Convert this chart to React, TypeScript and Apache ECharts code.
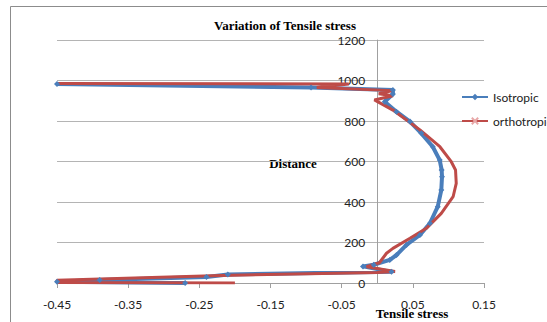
import React, { useEffect, useRef } from "react";
import * as echarts from "echarts";

// Isotropic series (stress, distance), in drawing order
const isoStress = [-0.27, -0.45, -0.39, -0.24, -0.21, 0.02, -0.02, -0.005, 0.0176, 0.027, 0.041, 0.06, 0.074, 0.085, 0.09, 0.091, 0.0905, 0.0878, 0.078, 0.062, 0.046, 0.027, 0.0105, 0.022, 0.022, -0.093, -0.45];
const isoDistance = [0, 6, 15, 30, 42, 55, 82, 90, 114, 138, 188, 237, 295, 377, 459, 525, 558, 607, 673, 739, 797, 846, 895, 933, 953, 965, 983];

// Orthotropic series (stress, distance), in drawing order
const orthoStress = [-0.2, -0.45, -0.45, -0.22, 0.0, 0.025, -0.015, 0.003, 0.013, 0.022, 0.046, 0.069, 0.09, 0.1066, 0.111, 0.11, 0.104, 0.088, 0.06, 0.022, -0.004, 0.022, 0.002, 0.022, -0.085, -0.04, -0.45];
const orthoDistance = [0, 2, 13, 37, 52, 57, 80, 100, 147, 171, 221, 270, 344, 426, 492, 558, 599, 673, 756, 854, 904, 925, 935, 950, 965, 983, 985];

const seriesNames = ["Isotropic", "orthotropic"];
const chartTitle = "Variation of Tensile stress";
const xTitle = "Tensile stress";
const yTitle = "Distance";

const zip = (xs: number[], ys: number[]) => xs.map((x, i) => [x, ys[i]]);

export default function App() {
  const ref = useRef<HTMLDivElement>(null);
  useEffect(() => {
    if (!ref.current) return;
    const chart = echarts.init(ref.current, null, { renderer: "svg" });
    const serif = "'Liberation Serif', 'Times New Roman', serif";
    const sans = "Lato, 'Liberation Sans', sans-serif";
    chart.setOption({
      animation: false,
      backgroundColor: "#ffffff",
      grid: { left: 57, right: 63, top: 40, bottom: 39, outerBoundsMode: "none" },
      legend: {
        orient: "vertical",
        left: 456,
        top: 86,
        itemWidth: 26,
        itemHeight: 8,
        itemGap: 12,
        textStyle: { fontFamily: sans, fontSize: 12, color: "#222" },
        data: seriesNames,
      },
      xAxis: {
        type: "value",
        min: -0.45,
        max: 0.15,
        interval: 0.1,
        splitLine: { show: false },
        axisLine: { onZero: false, lineStyle: { color: "#A0A0A0" } },
        axisTick: { show: true, length: 5, lineStyle: { color: "#A0A0A0" } },
        axisLabel: {
          margin: 15,
          color: "#222",
          fontFamily: sans,
          fontSize: 12,
          formatter: (v: number) => v.toFixed(2),
        },
      },
      yAxis: {
        type: "value",
        min: 0,
        max: 1200,
        interval: 200,
        offset: -320.25,
        axisLine: { show: true, onZero: false, lineStyle: { color: "#A0A0A0" } },
        axisTick: { show: false },
        splitLine: { lineStyle: { color: "#B4B4B4" } },
        axisLabel: {
          margin: 12,
          color: "#222",
          fontFamily: sans,
          fontSize: 12,
          formatter: (v: number) => String(v),
        },
      },
      series: [
        {
          name: seriesNames[0],
          type: "line",
          data: zip(isoStress, isoDistance),
          color: "#4A7EBB",
          lineStyle: { width: 4, color: "#4A7EBB" },
          symbol: "diamond",
          symbolSize: 6,
          itemStyle: { color: "#4A7EBB" },
        },
        {
          name: seriesNames[1],
          type: "line",
          data: zip(orthoStress, orthoDistance),
          color: "#BE4B48",
          lineStyle: { width: 3, color: "#BE4B48" },
          symbol: "path://M0,0L10,10M10,0L0,10",
          showSymbol: false,
          symbolSize: 5,
          itemStyle: { color: "#BE4B48", borderColor: "#E8A8A8", borderWidth: 1 },
        },
      ],
      graphic: [
        {
          type: "rect",
          shape: { x: 10.5, y: 6.5, width: 600, height: 400 },
          style: { fill: "none", stroke: "#8C8C8C", lineWidth: 1 },
          silent: true,
        },
        {
          type: "text",
          x: 285,
          y: 25,
          style: {
            text: chartTitle,
            font: `bold 13px ${serif}`,
            fill: "#000",
            textAlign: "center",
            textVerticalAlign: "middle",
          },
        },
        {
          type: "text",
          x: 293,
          y: 163,
          style: {
            text: yTitle,
            font: `bold 13px ${serif}`,
            fill: "#000",
            textAlign: "center",
            textVerticalAlign: "middle",
            backgroundColor: "#ffffff",
            padding: [1, 2],
          },
        },
        {
          type: "text",
          x: 412,
          y: 313,
          style: {
            text: xTitle,
            font: `bold 13px ${serif}`,
            fill: "#000",
            textAlign: "center",
            textVerticalAlign: "middle",
          },
        },
      ],
    });
    return () => chart.dispose();
  }, []);
  return (
    <div
      ref={ref}
      style={{ position: "fixed", left: 0, top: 0, width: 547, height: 322 }}
    />
  );
}
